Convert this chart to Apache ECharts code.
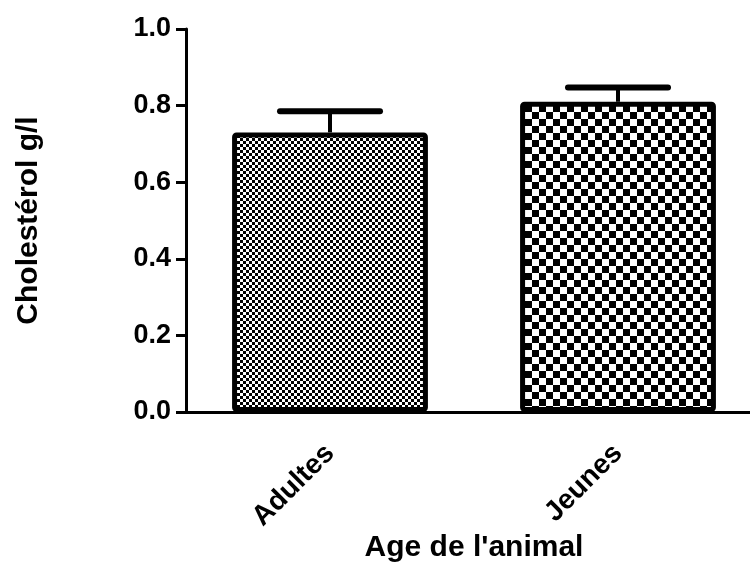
<!DOCTYPE html>
<html>
<head>
<meta charset="utf-8">
<script src="https://cdn.jsdelivr.net/npm/echarts@6/dist/echarts.min.js"></script>
<style>html,body{margin:0;padding:0;background:#fff;}#c{width:750px;height:567px;}</style>
</head>
<body>
<div id="c"></div>
<script>
var categories = ['Adultes', 'Jeunes'];
var means = [0.73, 0.81];
var errors = [0.055, 0.037];
var yTicks = [0.0, 0.2, 0.4, 0.6, 0.8, 1.0];

function checker(size) {
  var cv = document.createElement('canvas');
  cv.width = size * 2; cv.height = size * 2;
  var ctx = cv.getContext('2d');
  ctx.fillStyle = '#fff'; ctx.fillRect(0, 0, size * 2, size * 2);
  ctx.fillStyle = '#000';
  ctx.fillRect(0, 0, size, size);
  ctx.fillRect(size, size, size, size);
  return cv;
}
var patterns = [checker(3), checker(7)];

var FONT = '"Liberation Sans", Arial, sans-serif';
var chart = echarts.init(document.getElementById('c'));
chart.setOption({
  animation: false,
  backgroundColor: '#fff',
  grid: { left: 186, right: -12, top: 29, bottom: 155, containLabel: false, outerBoundsMode: 'none' },
  xAxis: {
    type: 'category',
    data: categories,
    name: "Age de l'animal",
    nameLocation: 'middle',
    nameGap: 121,
    nameMoveOverlap: false,
    nameTextStyle: { fontFamily: FONT, fontWeight: 'bold', fontSize: 30, color: '#000' },
    axisLine: { lineStyle: { color: '#000', width: 3 } },
    axisTick: { alignWithLabel: true, length: 11, lineStyle: { color: '#000', width: 3 } },
    axisLabel: { rotate: 45, margin: 37, fontFamily: FONT, fontWeight: 'bold', fontSize: 28, color: '#000' }
  },
  yAxis: {
    type: 'value',
    min: yTicks[0], max: yTicks[yTicks.length - 1], interval: 0.2,
    name: 'Cholestérol g/l',
    nameLocation: 'middle',
    nameGap: 142,
    nameMoveOverlap: false,
    nameRotate: 90,
    nameTextStyle: { fontFamily: FONT, fontWeight: 'bold', fontSize: 30, color: '#000' },
    axisLine: { show: true, lineStyle: { color: '#000', width: 3 } },
    axisTick: { show: true, length: 10, lineStyle: { color: '#000', width: 3 } },
    splitLine: { show: false },
    axisLabel: { margin: 15, fontFamily: FONT, fontWeight: 'bold', fontSize: 27, color: '#000',
      formatter: function (v) { return v.toFixed(1); } }
  },
  series: [
    {
      type: 'bar',
      barCategoryGap: '32%',
      data: means.map(function (v, i) {
        return { value: v, itemStyle: { color: { image: patterns[i], repeat: 'repeat' } } };
      }),
      itemStyle: { borderColor: '#000', borderWidth: 5, borderRadius: 2 },
      z: 2
    },
    {
      type: 'custom',
      data: means.map(function (v, i) { return [i, v, v + errors[i]]; }),
      renderItem: function (params, api) {
        var x = api.value(0);
        var p0 = api.coord([x, api.value(1)]);
        var p1 = api.coord([x, api.value(2)]);
        var half = 50;
        return {
          type: 'group',
          children: [
            { type: 'line', shape: { x1: p0[0], y1: p0[1], x2: p1[0], y2: p1[1] },
              style: { stroke: '#000', lineWidth: 4 } },
            { type: 'line', shape: { x1: p1[0] - half, y1: p1[1], x2: p1[0] + half, y2: p1[1] },
              style: { stroke: '#000', lineWidth: 6, lineCap: 'round' } }
          ]
        };
      },
      z: 1
    }
  ]
});
</script>
</body>
</html>
